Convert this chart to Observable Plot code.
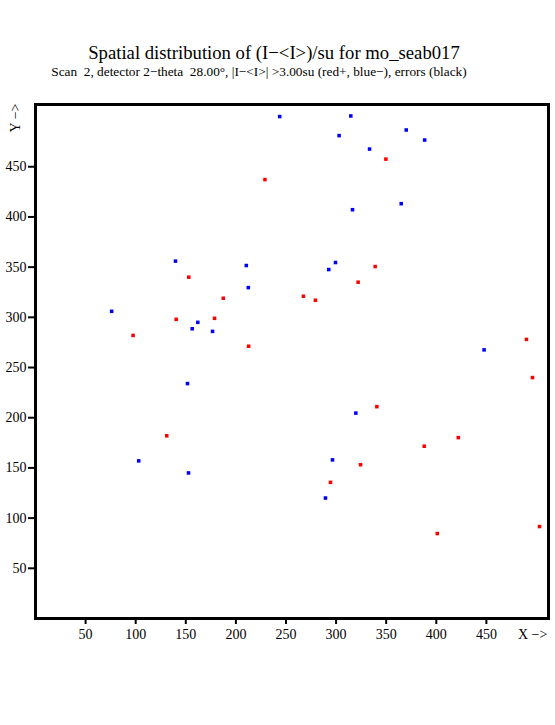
<!DOCTYPE html>
<html>
<head>
<meta charset="utf-8">
<script src="https://cdn.jsdelivr.net/npm/d3@7"></script>
<script src="https://cdn.jsdelivr.net/npm/@observablehq/plot@0.6"></script>
<style>
  html, body { margin: 0; padding: 0; background: #fff; }
  #wrap { position: relative; width: 555px; height: 725px; font-family: "Liberation Serif", "Times New Roman", serif; color: #000; }
  .t { position: absolute; white-space: nowrap; line-height: 1; z-index: 2; }
  #chart { position: absolute; left: 0; top: 90px; z-index: 1; }
</style>
</head>
<body>
<div id="wrap">
  <div id="chart"></div>
  <div class="t" id="title" style="font-size:18.7px; left:0; width:548px; text-align:center; top:43.5px;">Spatial distribution of (I−&lt;I&gt;)/su for mo_seab017</div>
  <div class="t" id="subtitle" style="font-size:13.3px; left:0; width:518px; text-align:center; top:65px;">Scan&nbsp; 2, detector 2−theta&nbsp; 28.00°, |I−&lt;I&gt;| &gt;3.00su (red+, blue−), errors (black)</div>
  <div class="t" id="ylab" style="font-size:14px; left:2px; top:111px; transform:rotate(-90deg); transform-origin:center;">Y −&gt;</div>
  <div class="t" id="xlab" style="font-size:14px; left:518px; top:627.5px;">X −&gt;</div>
</div>
<script>
// Negative deviations (blue)
const blueX = [243.7, 314.7, 303.0, 370.0, 388.4, 333.4, 365.0, 316.4, 139.7, 76.0, 162.0, 156.4, 176.7, 210.4, 212.4, 299.4, 292.7, 447.7, 319.7, 296.4, 289.4, 103.0, 152.7, 151.7];
const blueY = [500.0, 500.6, 481.0, 486.6, 476.6, 467.6, 413.2, 407.2, 356.0, 306.0, 295.0, 288.6, 286.0, 351.6, 329.6, 354.6, 347.6, 267.6, 204.6, 158.0, 120.0, 157.0, 145.0, 234.0];
// Positive deviations (red)
const redX = [349.7, 229.0, 153.0, 97.4, 140.4, 178.7, 187.4, 212.7, 339.0, 322.0, 267.4, 279.4, 490.0, 496.0, 340.7, 422.0, 388.0, 324.4, 294.4, 401.0, 503.0, 131.0];
const redY = [457.6, 437.2, 340.0, 282.0, 298.0, 299.0, 319.0, 271.2, 350.6, 335.0, 321.0, 317.0, 278.0, 240.0, 211.0, 180.2, 171.6, 153.2, 135.6, 84.6, 91.6, 182.0];
const xTicks = [50, 100, 150, 200, 250, 300, 350, 400, 450];
const yTicks = [50, 100, 150, 200, 250, 300, 350, 400, 450];

const blue = blueX.map((x, i) => ({x, y: blueY[i]}));
const red = redX.map((x, i) => ({x, y: redY[i]}));

const chart = Plot.plot({
  width: 555,
  height: 635,
  marginTop: 14,
  marginBottom: 107,
  marginLeft: 35,
  marginRight: 7,
  style: {fontFamily: "'Liberation Serif', 'Times New Roman', serif", fontSize: "14px", background: "#fff", color: "#000"},
  x: {domain: [0, 512]},
  y: {domain: [0, 512]},
  marks: [
    Plot.axisX({ticks: xTicks, tickSize: 6, tickPadding: 5, strokeWidth: 2, label: null, fontSize: 14, tickFormat: d => String(d)}),
    Plot.axisY({ticks: yTicks, tickSize: 7, tickPadding: 2, strokeWidth: 2, label: null, fontSize: 14, tickFormat: d => String(d)}),
    Plot.dot(red, {x: "x", y: "y", r: 2, symbol: "square", fill: "#ff0000", stroke: null}),
    Plot.dot(blue, {x: "x", y: "y", r: 2, symbol: "square", fill: "#0000ff", stroke: null}),
    Plot.frame({stroke: "#000", strokeWidth: 3})
  ]
});
document.getElementById("chart").appendChild(chart);
</script>
</body>
</html>
